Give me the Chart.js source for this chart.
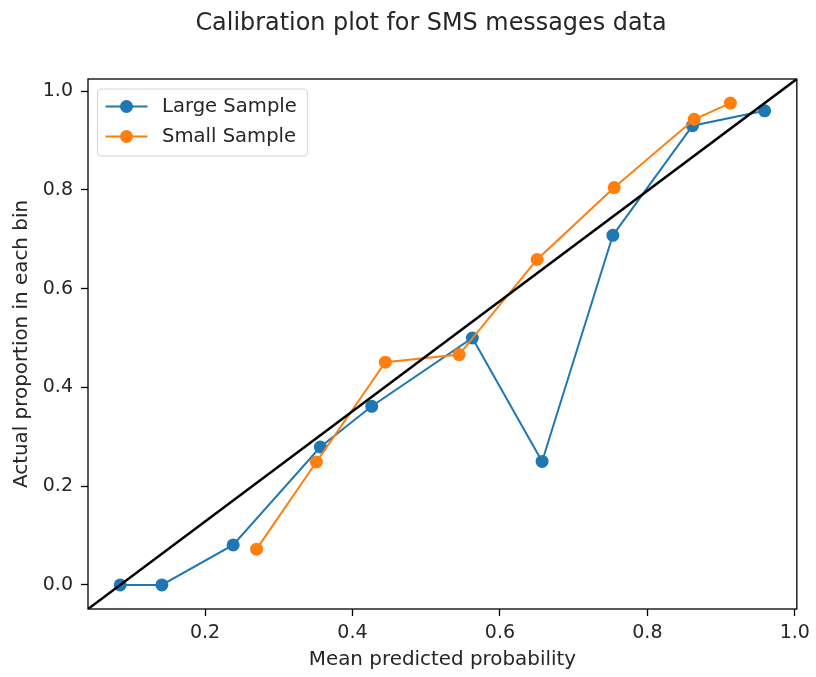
<!DOCTYPE html>
<html>
<head>
<meta charset="utf-8">
<title>Calibration plot</title>
<script src="https://cdn.jsdelivr.net/npm/chart.js@4/dist/chart.umd.min.js"></script>
<style>
    body { margin: 0; background: #fff; }
</style>
</head>
<body>
<canvas id="calibrationChart" width="816" height="677"></canvas>
<script>
// 大きいサンプルのビンごとの平均予測確率と実際の割合
const largeMeanPredicted = [0.085, 0.1415, 0.2382, 0.3564, 0.4261, 0.5626, 0.6572, 0.7532, 0.8612, 0.959];
const largeActual = [0.0, 0.0, 0.081, 0.2793, 0.3617, 0.5, 0.25, 0.708, 0.93, 0.96];

// 小さいサンプルのビンごとの平均予測確率と実際の割合
const smallMeanPredicted = [0.2699, 0.351, 0.4446, 0.5446, 0.6504, 0.755, 0.8635, 0.9126];
const smallActual = [0.0724, 0.2489, 0.451, 0.4665, 0.659, 0.8047, 0.943, 0.9757];

// 軸の範囲と目盛り
const xRange = [0.0413, 1.0027];
const yRange = [-0.0488, 1.0245];
const xTicks = [0.2, 0.4, 0.6, 0.8, 1.0];
const yTicks = [0.0, 0.2, 0.4, 0.6, 0.8, 1.0];

const seriesLabels = ['Large Sample', 'Small Sample'];
const chartTitle = 'Calibration plot for SMS messages data';
const xAxisLabel = 'Mean predicted probability';
const yAxisLabel = 'Actual proportion in each bin';

const FONT = 'DejaVu Sans';
const TEXT_COLOR = '#262626';
const BLUE = '#1f77b4';
const ORANGE = '#ff7f0e';

Chart.defaults.font.family = FONT;
Chart.defaults.color = TEXT_COLOR;

const ctx = document.getElementById('calibrationChart').getContext('2d');

// x と y の配列を点のリストにまとめる関数
function toPoints(xs, ys) {
    return xs.map((x, i) => ({ x: x, y: ys[i] }));
}

// 枠線（四辺）を描くプラグイン
const framePlugin = {
    id: 'frame',
    afterDatasetsDraw(chart) {
        const { ctx, chartArea: a } = chart;
        ctx.save();
        ctx.strokeStyle = '#000';
        ctx.lineWidth = 1.3;
        ctx.strokeRect(a.left, a.top, a.right - a.left, a.bottom - a.top);
        ctx.restore();
    }
};

// タイトルを描くプラグイン
const titlePlugin = {
    id: 'plotTitle',
    afterDraw(chart) {
        const c = chart.ctx;
        c.save();
        c.font = `23.9px "${FONT}"`;
        c.fillStyle = TEXT_COLOR;
        c.textAlign = 'center';
        c.textBaseline = 'alphabetic';
        c.fillText(chartTitle, 431, 29.5);
        c.restore();
    }
};

// グラフ内の左上に凡例を描くプラグイン
const legendPlugin = {
    id: 'innerLegend',
    afterDraw(chart) {
        const c = chart.ctx;
        const a = chart.chartArea;
        const boxX = a.left + 9.5, boxY = a.top + 10, boxW = 210, boxH = 67;
        c.save();
        c.fillStyle = 'rgba(255,255,255,0.8)';
        c.strokeStyle = 'rgba(204,204,204,0.8)';
        c.lineWidth = 1.2;
        c.beginPath();
        c.roundRect(boxX, boxY, boxW, boxH, 4);
        c.fill();
        c.stroke();

        const entries = chart.data.datasets.filter(ds => ds.inLegend);
        entries.forEach((ds, i) => {
            const y = boxY + 17.5 + i * 30;
            const x0 = boxX + 8;
            c.strokeStyle = ds.borderColor;
            c.lineWidth = ds.borderWidth;
            c.beginPath();
            c.moveTo(x0, y);
            c.lineTo(x0 + 42, y);
            c.stroke();
            c.fillStyle = ds.pointBackgroundColor;
            c.beginPath();
            c.arc(x0 + 21, y, ds.pointRadius, 0, Math.PI * 2);
            c.fill();
            c.fillStyle = TEXT_COLOR;
            c.font = `19.6px "${FONT}"`;
            c.textAlign = 'left';
            c.textBaseline = 'middle';
            c.fillText(ds.label, boxX + 64.5, y);
        });
        c.restore();
    }
};

// グラフを描画する関数
function drawChart() {
    const chart = new Chart(ctx, {
        type: 'line',
        data: {
            datasets: [{
                label: seriesLabels[0],
                inLegend: true,
                data: toPoints(largeMeanPredicted, largeActual),
                borderColor: BLUE,
                backgroundColor: BLUE,
                pointBackgroundColor: BLUE,
                pointBorderColor: BLUE,
                borderWidth: 2,
                pointRadius: 6.5,
                pointBorderWidth: 0,
                order: 2,
            }, {
                label: seriesLabels[1],
                inLegend: true,
                data: toPoints(smallMeanPredicted, smallActual),
                borderColor: ORANGE,
                backgroundColor: ORANGE,
                pointBackgroundColor: ORANGE,
                pointBorderColor: ORANGE,
                borderWidth: 2,
                pointRadius: 6.5,
                pointBorderWidth: 0,
                order: 1,
            }, {
                // 軸の左下から右上への対角線
                label: 'diagonal',
                inLegend: false,
                data: [{ x: xRange[0], y: yRange[0] }, { x: xRange[1], y: yRange[1] }],
                borderColor: '#000',
                borderWidth: 2.5,
                pointRadius: 0,
                order: 0,
            }]
        },
        options: {
            responsive: false,
            animation: false,
            layout: {
                padding: { left: 0, right: 18, top: 79, bottom: 0 }
            },
            plugins: {
                legend: { display: false },
                tooltip: { enabled: false },
                title: { display: false }
            },
            scales: {
                x: {
                    type: 'linear',
                    min: xRange[0],
                    max: xRange[1],
                    afterBuildTicks: scale => { scale.ticks = xTicks.map(v => ({ value: v })); },
                    afterFit: scale => { scale.height = 68; },
                    border: { display: false },
                    grid: {
                        drawOnChartArea: false,
                        drawTicks: true,
                        tickLength: 7,
                        tickColor: '#000',
                        tickWidth: 1.3
                    },
                    ticks: {
                        padding: 6,
                        maxRotation: 0,
                        font: { size: 19 },
                        callback: v => v.toFixed(1)
                    },
                    title: {
                        display: true,
                        text: xAxisLabel,
                        font: { size: 19.9 },
                        padding: { top: 0, bottom: 5 }
                    }
                },
                y: {
                    type: 'linear',
                    min: yRange[0],
                    max: yRange[1],
                    afterBuildTicks: scale => { scale.ticks = yTicks.map(v => ({ value: v })); },
                    afterFit: scale => { scale.width = 88; },
                    border: { display: false },
                    grid: {
                        drawOnChartArea: false,
                        drawTicks: true,
                        tickLength: 7,
                        tickColor: '#000',
                        tickWidth: 1.3
                    },
                    ticks: {
                        padding: 8,
                        font: { size: 19 },
                        callback: v => v.toFixed(1)
                    },
                    title: {
                        display: true,
                        text: yAxisLabel,
                        font: { size: 19.9 },
                        padding: { top: 10, bottom: 0 }
                    }
                }
            }
        },
        plugins: [framePlugin, legendPlugin, titlePlugin]
    });
    return chart;
}

drawChart();
</script>
</body>
</html>
